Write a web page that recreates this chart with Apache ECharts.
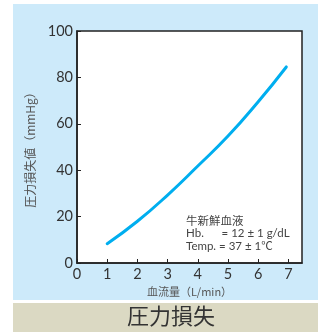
<!DOCTYPE html>
<html><head><meta charset="utf-8">
<script src="https://cdn.jsdelivr.net/npm/echarts@6/dist/echarts.min.js"></script>
<style>html,body{margin:0;padding:0;background:#fff}#c{width:318px;height:334px}</style>
</head><body><div id="c"></div>
<script>
const flowValues = [1, 2, 3, 4, 5, 6, 6.93];
const pressureValues = [8.3, 18, 29.3, 41.8, 54.7, 69.5, 84.5];
const xTicks = [0, 1, 2, 3, 4, 5, 6, 7];
const yTicks = [0, 20, 40, 60, 80, 100];
const xAxisTitle = '血流量（L/min）';
const yAxisTitle = '圧力損失値（mmHg）';
const noteLines = ['牛新鮮血液', 'Hb.      = 12 ± 1 g/dL', 'Temp. = 37 ± 1℃'];
const chartTitle = '圧力損失';

const chart = echarts.init(document.getElementById('c'), null, {renderer: 'canvas'});
const FONT = 'Lato, "Noto Sans CJK JP", sans-serif';
chart.setOption({
  animation: false,
  backgroundColor: '#fff',
  graphic: [
    {type: 'rect', z: -10, shape: {x: 13, y: 4, width: 305, height: 296}, style: {fill: '#cdeafa'}},
    {type: 'rect', z: -10, shape: {x: 13, y: 303, width: 305, height: 29}, style: {fill: '#dbd9c3'}},
    {type: 'text', z: 10, left: 127, top: 305, style: {text: chartTitle, font: '22px "Noto Sans CJK JP"', fill: '#333'}},
    {type: 'text', z: 10, left: 186, top: 215, style: {text: noteLines.join('\n'), font: '11.5px Lato, "Noto Sans CJK JP"', lineHeight: 12.5, fill: '#444'}}
  ],
  grid: {left: 77, top: 31, right: 16, bottom: 71, show: true, backgroundColor: '#fff', borderColor: '#222', borderWidth: 1.5, containLabel: false},
  xAxis: {
    type: 'value', min: 0, max: 7.45, interval: 1,
    axisLine: {show: true, lineStyle: {color: '#222', width: 1.5}},
    axisTick: {show: true, inside: true, length: 4, lineStyle: {color: '#222'}},
    splitLine: {show: false},
    axisLabel: {color: '#333', fontSize: 14.5, fontFamily: FONT, margin: 4, showMaxLabel: false,
      formatter: v => xTicks.includes(v) ? String(v) : ''},
    name: xAxisTitle, nameLocation: 'middle', nameGap: 21,
    nameTextStyle: {color: '#555', fontSize: 11, fontFamily: '"Noto Sans CJK JP"'}
  },
  yAxis: {
    type: 'value', min: 0, max: 100, interval: 20,
    axisLine: {show: true, lineStyle: {color: '#222', width: 1.5}},
    axisTick: {show: true, inside: true, length: 4, lineStyle: {color: '#222'}},
    splitLine: {show: false},
    axisLabel: {color: '#333', fontSize: 14.5, fontFamily: FONT, margin: 4,
      formatter: v => yTicks.includes(v) ? String(v) : ''},
    name: yAxisTitle, nameLocation: 'middle', nameGap: 30, nameRotate: 90,
    nameTextStyle: {color: '#555', fontSize: 12, fontFamily: '"Noto Sans CJK JP"'}
  },
  series: [{
    type: 'line', smooth: true, symbol: 'none',
    data: flowValues.map((x, i) => [x, pressureValues[i]]),
    lineStyle: {color: '#00aeef', width: 3, cap: 'round'}
  }]
});
</script></body></html>
